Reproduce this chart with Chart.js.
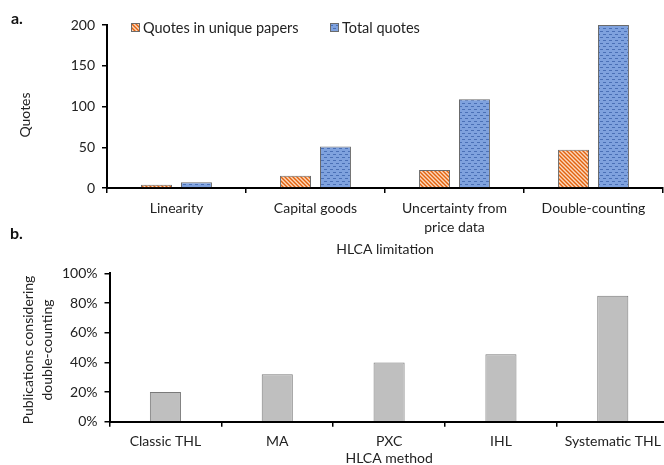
<!DOCTYPE html>
<html>
<head>
<meta charset="utf-8">
<script src="https://cdn.jsdelivr.net/npm/chart.js@4/dist/chart.umd.min.js"></script>
<style>
  html, body { margin:0; padding:0; background:#fff; overflow:hidden; width:664px; height:465px; }
  #wrap { position:relative; width:664px; height:465px; overflow:hidden; }
  canvas { position:absolute; left:0; display:block; }
  #ca { top:0; }
  #cb { top:258px; }
  .panel { position:absolute; font-family:Lato, 'Open Sans', sans-serif; font-weight:bold; font-size:16px; color:#111; }
</style>
</head>
<body>
<div id="wrap">
  <canvas id="ca" width="670" height="258"></canvas>
  <canvas id="cb" width="670" height="207"></canvas>
  <div class="panel" style="left:11px; top:8px;">a.</div>
  <div class="panel" style="left:10px; top:223px;">b.</div>
</div>
<script>
// ---- data ----
const limitations = ['Linearity', 'Capital goods', ['Uncertainty from', 'price data'], 'Double-counting'];
const uniqueQuotes = [4, 15, 22, 47];
const totalQuotes = [7, 51, 109, 200];
const seriesNames = ['Quotes in unique papers', 'Total quotes'];
const quoteTicks = [0, 50, 100, 150, 200];

const methods = ['Classic THL', 'MA', 'PXC', 'IHL', 'Systematic THL'];
const doubleCountingShare = [20, 32, 40, 45.5, 85];
const shareTicks = [0, 20, 40, 60, 80, 100];

// ---- styles ----
const FONT = 'Lato, "Open Sans", sans-serif';
const TXT = '#222222';
const FS = 14;

function hatchPattern() {
  const c = document.createElement('canvas');
  c.width = 4; c.height = 4;
  const g = c.getContext('2d');
  g.fillStyle = '#FCD9BE';
  g.fillRect(0, 0, 4, 4);
  g.strokeStyle = '#E2620E';
  g.lineWidth = 1.4;
  g.beginPath();
  g.moveTo(-1, -1); g.lineTo(5, 5);
  g.moveTo(-1, 3); g.lineTo(1, 5);
  g.moveTo(3, -1); g.lineTo(5, 1);
  g.stroke();
  return g.createPattern(c, 'repeat');
}
function dashPattern() {
  const c = document.createElement('canvas');
  c.width = 6; c.height = 6;
  const g = c.getContext('2d');
  g.fillStyle = '#7FA2DE';
  g.fillRect(0, 0, 6, 6);
  g.fillStyle = '#4A70B6';
  g.fillRect(0, 1, 3, 1);
  g.fillRect(3, 4, 3, 1);
  return g.createPattern(c, 'repeat');
}
const hatch = hatchPattern();
const dots = dashPattern();

const legendPlugin = {
  id: 'customLegend',
  afterDraw(chart) {
    const ctx = chart.ctx;
    const items = [
      { x: 131, fill: chart.data.datasets[0].backgroundColor, label: chart.data.datasets[0].label },
      { x: 330, fill: chart.data.datasets[1].backgroundColor, label: chart.data.datasets[1].label }
    ];
    ctx.save();
    ctx.font = '14.5px ' + FONT;
    ctx.textBaseline = 'middle';
    items.forEach(it => {
      ctx.fillStyle = it.fill;
      ctx.fillRect(it.x, 23, 8, 8);
      ctx.strokeStyle = '#6b6b6b';
      ctx.lineWidth = 1;
      ctx.strokeRect(it.x + 0.5, 23.5, 8, 8);
      ctx.fillStyle = TXT;
      ctx.fillText(it.label, it.x + 12, 28);
    });
    ctx.restore();
  }
};
function rotatedTitle(id, lines, x0, cy, step) {
  return {
    id,
    afterDraw(chart) {
      const ctx = chart.ctx;
      ctx.save();
      ctx.font = FS + 'px ' + FONT;
      ctx.fillStyle = TXT;
      ctx.textAlign = 'center';
      ctx.textBaseline = 'middle';
      lines.forEach((t, i) => {
        ctx.save();
        ctx.translate(x0 + i * step, cy);
        ctx.rotate(-Math.PI / 2);
        ctx.fillText(t, 0, 0);
        ctx.restore();
      });
      ctx.restore();
    }
  };
}

Chart.defaults.font.family = FONT;
Chart.defaults.font.size = FS;
Chart.defaults.color = TXT;

// ---- chart a ----
new Chart(document.getElementById('ca'), {
  type: 'bar',
  data: {
    labels: limitations,
    datasets: [
      { label: seriesNames[0], data: uniqueQuotes, backgroundColor: hatch, borderColor: '#6b6b6b', borderWidth: 1, borderSkipped: 'bottom',
        categoryPercentage: 0.575, barPercentage: 0.775 },
      { label: seriesNames[1], data: totalQuotes, backgroundColor: dots, borderColor: '#6b6b6b', borderWidth: 1, borderSkipped: 'bottom',
        categoryPercentage: 0.575, barPercentage: 0.775 }
    ]
  },
  options: {
    responsive: false,
    animation: false,
    devicePixelRatio: 1,
    layout: { padding: { top: 25, right: 7, left: 0, bottom: 0 } },
    plugins: { legend: { display: false }, tooltip: { enabled: false } },
    scales: {
      x: {
        grid: { display: true, drawOnChartArea: false, drawTicks: true, tickLength: 5, color: '#000', lineWidth: 1.5, offset: true },
        border: { display: true, color: '#000', width: 2 },
        ticks: { padding: 5.5, maxRotation: 0, autoSkip: false, font: { size: FS, lineHeight: 1.36 } },
        title: { display: true, text: 'HLCA limitation', font: { size: FS, lineHeight: 1.15 }, padding: { top: 0, bottom: 0 } },
        afterFit(s) { s.height = 70; }
      },
      y: {
        min: 0, max: 200,
        afterBuildTicks(s) { s.ticks = quoteTicks.map(v => ({ value: v })); },
        grid: { display: true, drawOnChartArea: false, drawTicks: true, tickLength: 5, color: '#000', lineWidth: 1.5 },
        border: { display: true, color: '#000', width: 2 },
        ticks: { padding: 7, font: { size: FS } },
        afterFit(s) { s.width = 107; }
      }
    }
  },
  plugins: [legendPlugin, rotatedTitle('yTitleA', ['Quotes'], 25, 115, 0)]
});

// ---- chart b ----
new Chart(document.getElementById('cb'), {
  type: 'bar',
  data: {
    labels: methods,
    datasets: [
      { label: 'Publications considering double-counting', data: doubleCountingShare, backgroundColor: '#BFBFBF', borderColor: '#7a7a7a', borderWidth: 1, borderSkipped: 'bottom',
        categoryPercentage: 1, barPercentage: 0.278 }
    ]
  },
  options: {
    responsive: false,
    animation: false,
    devicePixelRatio: 1,
    layout: { padding: { top: 12, right: 1.3, left: 0, bottom: 0 } },
    plugins: { legend: { display: false }, tooltip: { enabled: false } },
    scales: {
      x: {
        grid: { display: true, drawOnChartArea: false, drawTicks: true, tickLength: 5, color: '#000', lineWidth: 1.5, offset: true },
        border: { display: true, color: '#000', width: 2 },
        ticks: { padding: 6.5, maxRotation: 0, autoSkip: false, font: { size: FS } },
        title: { display: true, text: 'HLCA method', font: { size: FS, lineHeight: 1.0 }, padding: { top: 0, bottom: 0 } },
        afterFit(s) { s.height = 43.3; }
      },
      y: {
        min: 0, max: 100,
        afterBuildTicks(s) { s.ticks = shareTicks.map(v => ({ value: v })); },
        grid: { display: true, drawOnChartArea: false, drawTicks: true, tickLength: 5, color: '#000', lineWidth: 1.5 },
        border: { display: true, color: '#000', width: 2 },
        ticks: { padding: 7, font: { size: FS }, callback: v => v + '%' },
        afterFit(s) { s.width = 109.5; }
      }
    }
  },
  plugins: [rotatedTitle('yTitleB', ['Publications considering', 'double-counting'], 28, 92, 19)]
});
</script>
</body>
</html>
